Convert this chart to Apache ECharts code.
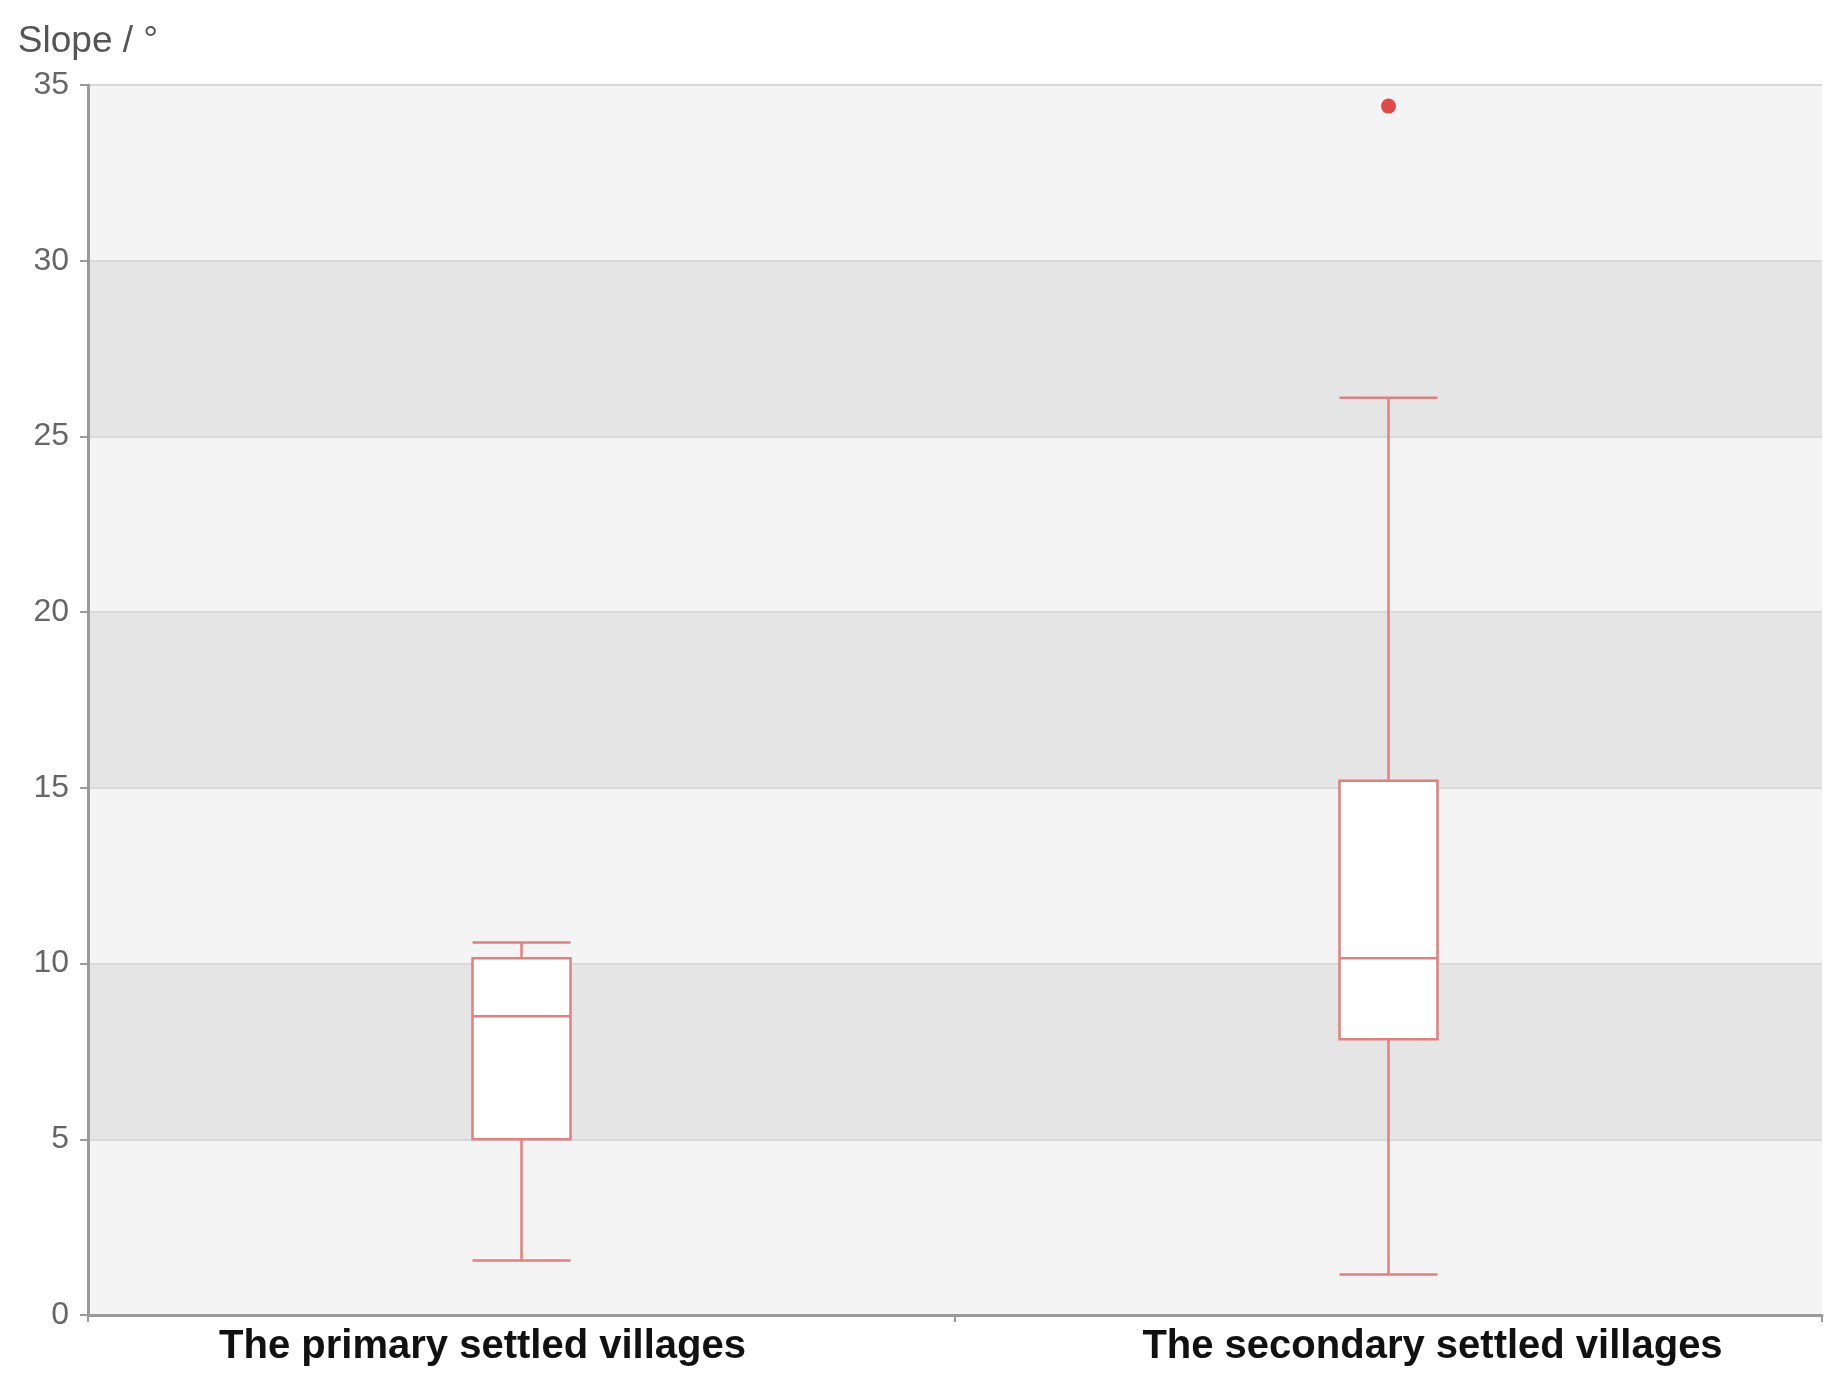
<!DOCTYPE html>
<html>
<head>
<meta charset="utf-8">
<script src="https://cdn.jsdelivr.net/npm/echarts@6/dist/echarts.min.js"></script>
<style>
    html, body { margin: 0; padding: 0; background: #fff; }
    #chart { width: 1841px; height: 1380px; }
</style>
</head>
<body>
<div id="chart"></div>
<script>
    // categories and box stats: [min, Q1, median, Q3, max]
    const categories = ['The primary settled villages', 'The secondary settled villages'];
    const primaryStats = [1.55, 5.0, 8.5, 10.15, 10.6];
    const secondaryStats = [1.15, 7.85, 10.15, 15.2, 26.1];
    const outliers = [[1, 34.4]];
    const yTicks = { min: 0, max: 35, interval: 5 };

    const chart = echarts.init(document.getElementById('chart'));

    const option = {
        backgroundColor: '#fff',
        grid: { left: 88, right: 19, top: 85, bottom: 65 },
        xAxis: {
            type: 'category',
            data: categories,
            axisLine: { lineStyle: { color: '#9a9a9a', width: 3 } },
            axisTick: { show: true, length: 7, lineStyle: { color: '#9a9a9a', width: 2 } },
            axisLabel: {
                margin: 12,
                interval: 0,
                // labels sit a little off the category centres in the original
                formatter: function (val, idx) {
                    return idx === 0 ? '{a|' + val + '}' : '{b|' + val + '}';
                },
                rich: {
                    a: { fontFamily: 'Liberation Sans', fontWeight: 'bold', fontSize: 40, color: '#111', padding: [0, 78, 0, 0] },
                    b: { fontFamily: 'Liberation Sans', fontWeight: 'bold', fontSize: 40, color: '#111', padding: [0, 0, 0, 88] }
                }
            }
        },
        yAxis: {
            type: 'value',
            name: 'Slope / °',
            nameGap: 25,
            nameTextStyle: { fontFamily: 'Liberation Sans', fontSize: 37, color: '#555' },
            min: yTicks.min,
            max: yTicks.max,
            interval: yTicks.interval,
            axisLine: { show: true, lineStyle: { color: '#9a9a9a', width: 3 } },
            axisTick: { show: true, length: 8, lineStyle: { color: '#9a9a9a', width: 2 } },
            axisLabel: { fontFamily: 'Liberation Sans', fontSize: 32, color: '#666', margin: 19 },
            splitLine: { show: true, lineStyle: { color: '#d9d9d9', width: 2 } },
            splitArea: { show: true, areaStyle: { color: ['#f4f4f4', '#e5e5e5'] } }
        },
        series: [
            {
                type: 'boxplot',
                data: [primaryStats, secondaryStats],
                boxWidth: [98, 98],
                itemStyle: { color: '#fff', borderColor: '#e27f7f', borderWidth: 2.5 }
            },
            {
                type: 'scatter',
                data: outliers,
                symbolSize: 15,
                itemStyle: { color: '#e04a4a', opacity: 1 }
            }
        ]
    };

    chart.setOption(option);
</script>
</body>
</html>
